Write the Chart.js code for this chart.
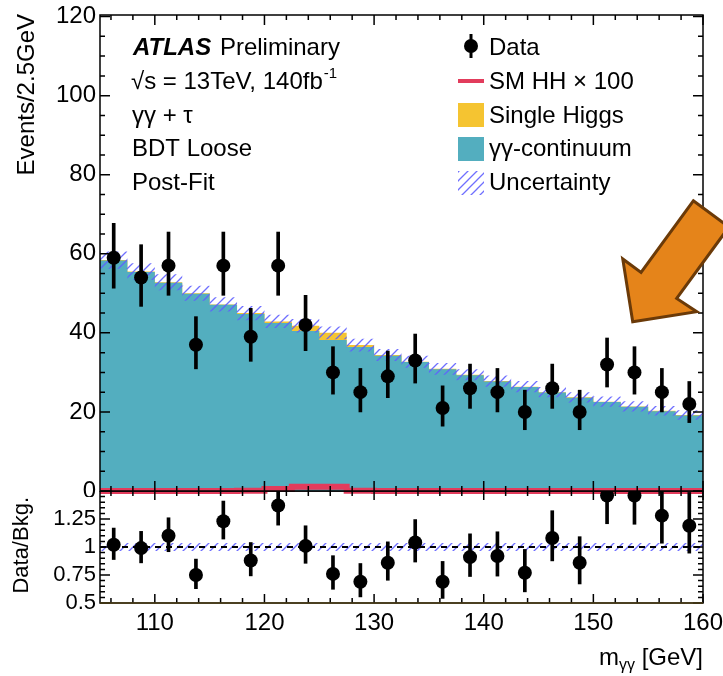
<!DOCTYPE html>
<html>
<head>
<meta charset="utf-8">
<script src="https://cdn.jsdelivr.net/npm/chart.js@4.4.1/dist/chart.umd.min.js"></script>
<style>
  html, body { margin: 0; padding: 0; background: #fff; }
  #wrap { position: relative; width: 723px; height: 676px; overflow: hidden; }
  #main  { position: absolute; left: 0; top: 0; }
  #ratio { position: absolute; left: 0; top: 491px; }
</style>
</head>
<body>
<div id="wrap">
  <canvas id="main" width="723" height="497"></canvas>
  <canvas id="ratio" width="723" height="185"></canvas>
</div>
<script>
// ---- data (2.5 GeV bins, 105-160) ----
const binEdges   = [105, 107.5, 110, 112.5, 115, 117.5, 120, 122.5, 125, 127.5, 130, 132.5,
                    135, 137.5, 140, 142.5, 145, 147.5, 150, 152.5, 155, 157.5, 160];
const binCenters = [106.25, 108.75, 111.25, 113.75, 116.25, 118.75, 121.25, 123.75, 126.25, 128.75, 131.25,
                    133.75, 136.25, 138.75, 141.25, 143.75, 146.25, 148.75, 151.25, 153.75, 156.25, 158.75];

const continuum   = [58.3, 55.4, 52.7, 49.9, 47.1, 44.8, 42.5, 40.5, 38.2, 36.4, 34.2,
                     32.6, 30.8, 29.3, 27.7, 26.3, 24.9, 23.6, 22.5, 21.3, 20.2, 19.1];
const singleHiggs = [0.1, 0.1, 0.1, 0.1, 0.1, 0.2, 0.4, 1.3, 1.8, 0.5, 0.2,
                     0.1, 0.1, 0.1, 0.1, 0.1, 0.1, 0.1, 0.1, 0.1, 0.1, 0.1];
const smHHx100    = [0.02, 0.02, 0.02, 0.02, 0.02, 0.05, 0.5, 1.1, 1.1, 0.05, 0.02,
                     0.02, 0.02, 0.02, 0.02, 0.02, 0.02, 0.02, 0.02, 0.02, 0.02, 0.02];
const bkgUnc      = [2.2, 2.1, 2.0, 1.9, 1.8, 1.8, 1.7, 1.7, 1.6, 1.6, 1.5,
                     1.5, 1.5, 1.4, 1.4, 1.4, 1.3, 1.3, 1.3, 1.3, 1.2, 1.2];

const dataCounts  = [59, 54, 57, 37, 57, 39, 57, 42, 30, 25, 29, 33, 21, 26, 25, 20, 26, 20, 32, 30, 25, 22];
const dataErrUp   = [8.7, 8.3, 8.5, 7.1, 8.5, 7.2, 8.5, 7.5, 6.5, 6.0, 6.4, 6.7, 5.6, 6.1, 6.0, 5.5, 6.1, 5.5, 6.7, 6.5, 6.0, 5.7];
const dataErrDown = [7.7, 7.3, 7.5, 6.1, 7.5, 6.2, 7.5, 6.5, 5.5, 5.0, 5.4, 5.7, 4.6, 5.1, 5.0, 4.5, 5.1, 4.5, 5.7, 5.5, 5.0, 4.7];

const ratioVals   = [1.02, 0.99, 1.10, 0.75, 1.23, 0.88, 1.37, 1.01, 0.76, 0.69, 0.86,
                     1.04, 0.69, 0.91, 0.92, 0.77, 1.08, 0.86, 1.46, 1.46, 1.28, 1.19];
const ratioUnc    = [0.035, 0.035, 0.035, 0.035, 0.035, 0.035, 0.035, 0.035, 0.035, 0.035, 0.035,
                     0.035, 0.035, 0.035, 0.035, 0.035, 0.035, 0.035, 0.035, 0.035, 0.035, 0.035];

const xTickLabels = [110, 120, 130, 140, 150, 160];
const yTicksMain  = [0, 20, 40, 60, 80, 100, 120];
const yTicksRatio = [0.5, 0.75, 1, 1.25];

const infoLines    = ['γγ + τ', 'BDT Loose', 'Post-Fit'];
const legendLabels = ['Data', 'SM HH × 100', 'Single Higgs', 'γγ-continuum', 'Uncertainty'];

// orange arrow outline, in (m_yy, events) units
const arrowX = [159.12, 162.37, 157.60, 159.43, 153.59, 152.68, 154.35];
const arrowY = [73.4, 66.8, 48.7, 45.35, 42.8, 58.7, 55.3];

// ---- helpers ----
const FONT = "'Liberation Sans', Arial, Helvetica, sans-serif";
const TEAL = '#53aebf', YELLOW = '#f5c431', RED = '#e23c5c', HATCH = 'rgba(95,95,255,0.9)';

const bkgTotal = continuum.map((v, i) => v + singleHiggs[i]);

// histogram -> points on bin edges for stepped line
const stepPoints = vals => binEdges.map((x, i) => ({ x, y: vals[Math.min(i, vals.length - 1)] }));

function makeHatch() {
  const c = document.createElement('canvas');
  c.width = 9; c.height = 9;
  const g = c.getContext('2d');
  g.strokeStyle = HATCH;
  g.lineWidth = 1.3;
  g.beginPath();
  g.moveTo(-1, 10); g.lineTo(10, -1);
  g.moveTo(-1, 1);  g.lineTo(1, -1);
  g.moveTo(8, 10);  g.lineTo(10, 8);
  g.stroke();
  return g.createPattern(c, 'repeat');
}
const hatch = makeHatch();

// no extra room for edge labels, the frame is placed by the layout padding
function noScalePad(s) {
  s.paddingTop = 0; s.paddingBottom = 0; s.paddingLeft = 0; s.paddingRight = 0;
}

// inward ATLAS-style ticks + frame
function frameTicks(chart, o) {
  const { ctx, chartArea: a } = chart;
  const x = chart.scales.x, y = chart.scales.y;
  const each = (min, max, step, major, fn) => {
    for (let n = Math.ceil(min / step - 1e-9); n * step <= max + 1e-9; n++) {
      const v = n * step;
      fn(v, Math.abs(v / major - Math.round(v / major)) < 1e-6);
    }
  };
  ctx.save();
  ctx.strokeStyle = '#000';
  ctx.lineWidth = 1.5;
  ctx.beginPath();
  each(x.min, x.max, o.xMinor, o.xMajor, (v, M) => {
    const p = x.getPixelForValue(v), L = M ? o.xMaj : o.xMin;
    ctx.moveTo(p, a.bottom); ctx.lineTo(p, a.bottom - L);
    ctx.moveTo(p, a.top);    ctx.lineTo(p, a.top + L);
  });
  each(y.min, y.max, o.yMinor, o.yMajor, (v, M) => {
    const p = y.getPixelForValue(v), L = M ? o.yMaj : o.yMin;
    ctx.moveTo(a.left, p);  ctx.lineTo(a.left + L, p);
    ctx.moveTo(a.right, p); ctx.lineTo(a.right - L, p);
  });
  ctx.stroke();
  ctx.strokeRect(a.left, a.top, a.right - a.left, a.bottom - a.top);
  if (o.bottomColor) {
    ctx.strokeStyle = o.bottomColor;
    ctx.beginPath(); ctx.moveTo(a.left, a.bottom); ctx.lineTo(a.right, a.bottom); ctx.stroke();
  }
  ctx.restore();
}

function mainDecor(chart) {
  const ctx = chart.ctx;
  const x = chart.scales.x, y = chart.scales.y;
  frameTicks(chart, { xMinor: 2, xMajor: 10, xMaj: 10, xMin: 5, yMinor: 5, yMajor: 20, yMaj: 10, yMin: 5 });

  ctx.save();
  ctx.fillStyle = '#000';
  ctx.textBaseline = 'alphabetic';

  // y title, aligned to the top end
  ctx.save();
  ctx.font = `24px ${FONT}`;
  ctx.translate(34, 14);
  ctx.rotate(-Math.PI / 2);
  ctx.textAlign = 'right';
  ctx.fillText('Events/2.5GeV', 0, 0);
  ctx.restore();

  // label block
  ctx.font = `italic bold 24px ${FONT}`;
  ctx.fillText('ATLAS', 133, 55);
  let w = ctx.measureText('ATLAS').width;
  ctx.font = `24px ${FONT}`;
  ctx.fillText(' Preliminary', 135 + w, 55);
  const s = '√s = 13TeV, 140fb';
  ctx.fillText(s, 131, 89);
  w = ctx.measureText(s).width;
  ctx.font = `15px ${FONT}`;
  ctx.fillText('-1', 132 + w, 78);
  ctx.font = `24px ${FONT}`;
  infoLines.forEach((t, i) => ctx.fillText(t, 132, 122.5 + 33.6 * i));

  // legend
  const lx = 458, lw = 26, tx = 489;
  const base = [55, 89, 122.5, 156, 190];
  legendLabels.forEach((t, i) => ctx.fillText(t, tx, base[i]));
  // data marker
  ctx.strokeStyle = '#000'; ctx.lineWidth = 3;
  ctx.beginPath(); ctx.moveTo(471, 34); ctx.lineTo(471, 58); ctx.stroke();
  ctx.beginPath(); ctx.arc(471, 46, 7, 0, Math.PI * 2); ctx.fill();
  // SM HH line
  ctx.strokeStyle = RED; ctx.lineWidth = 4;
  ctx.beginPath(); ctx.moveTo(lx, 81); ctx.lineTo(lx + lw, 81); ctx.stroke();
  // boxes
  ctx.fillStyle = YELLOW; ctx.fillRect(lx, 103, lw, 24);
  ctx.fillStyle = TEAL;   ctx.fillRect(lx, 137, lw, 24);
  ctx.fillStyle = hatch;  ctx.fillRect(lx, 171, lw, 24);

  // orange arrow
  ctx.beginPath();
  arrowX.forEach((v, i) => {
    const px = x.getPixelForValue(v), py = y.getPixelForValue(arrowY[i]);
    i ? ctx.lineTo(px, py) : ctx.moveTo(px, py);
  });
  ctx.closePath();
  ctx.fillStyle = '#e5841a';
  ctx.fill();
  ctx.strokeStyle = '#6b3a08';
  ctx.lineWidth = 3;
  ctx.lineJoin = 'miter';
  ctx.stroke();
  ctx.restore();
}

function ratioDecor(chart) {
  const ctx = chart.ctx;
  const a = chart.chartArea;
  // the shared border with the upper panel is drawn there, so skip it here
  frameTicks(chart, { xMinor: 2, xMajor: 10, xMaj: 9, xMin: 5, yMinor: 0.05, yMajor: 0.25, yMaj: 10, yMin: 5,
                      bottomColor: '#4f4017' });
  ctx.save();
  ctx.fillStyle = '#000';
  // y title
  ctx.save();
  ctx.font = `22px ${FONT}`;
  ctx.translate(28, 6);
  ctx.rotate(-Math.PI / 2);
  ctx.textAlign = 'right';
  ctx.fillText('Data/Bkg.', 0, 0);
  ctx.restore();
  // x title  m_yy [GeV], right aligned to the frame
  const big = `24px ${FONT}`, small = `16px ${FONT}`;
  ctx.font = big;  const w1 = ctx.measureText('m').width;
  ctx.font = small; const w2 = ctx.measureText('γγ').width;
  ctx.font = big;  const w3 = ctx.measureText(' [GeV]').width;
  const x0 = a.right - (w1 + w2 + w3);
  ctx.font = big;   ctx.fillText('m', x0, 174);
  ctx.font = small; ctx.fillText('γγ', x0 + w1, 179);
  ctx.font = big;   ctx.fillText(' [GeV]', x0 + w1 + w2, 174);
  ctx.restore();
}

const commonY = (ticks, font) => ({
  type: 'linear',
  afterFit(s) { s.width = 100; noScalePad(s); },
  afterBuildTicks(s) { s.ticks = ticks.map(v => ({ value: v })); },
  ticks: { font: { family: FONT, size: font }, color: '#000', padding: 4, autoSkip: false, callback: v => String(v) },
  grid: { display: false, drawTicks: false },
  border: { display: false }
});

// ---- main panel ----
new Chart(document.getElementById('main'), {
  type: 'line',
  data: {
    datasets: [
      { label: 'Data', data: binCenters.map((x, i) => ({ x, y: dataCounts[i] })),
        showLine: false, pointRadius: 7, pointBackgroundColor: '#000', pointBorderWidth: 0, borderColor: '#000' },
      { type: 'bar', label: 'Data err', grouped: false, barThickness: 3, backgroundColor: '#000', borderWidth: 0,
        data: binCenters.map((x, i) => ({ x, y: [dataCounts[i] - dataErrDown[i], dataCounts[i] + dataErrUp[i]] })) },
      { label: 'Uncertainty', data: stepPoints(bkgTotal.map((v, i) => v + bkgUnc[i])), stepped: 'before',
        pointRadius: 0, borderWidth: 0, borderColor: 'transparent', fill: '+1', backgroundColor: hatch },
      { label: 'unc lo', data: stepPoints(bkgTotal.map((v, i) => v - bkgUnc[i])), stepped: 'before',
        pointRadius: 0, borderWidth: 0, borderColor: 'transparent', fill: false },
      { label: 'SM HH x 100', data: stepPoints(smHHx100), stepped: 'before', pointRadius: 0,
        borderWidth: 6, borderColor: RED, fill: false, clip: 8 },
      { label: 'γγ-continuum', data: stepPoints(continuum), stepped: 'before', pointRadius: 0,
        borderWidth: 0, borderColor: 'transparent', fill: 'origin', backgroundColor: TEAL },
      { label: 'Single Higgs', data: stepPoints(bkgTotal), stepped: 'before', pointRadius: 0,
        borderWidth: 0, borderColor: 'transparent', fill: 'origin', backgroundColor: YELLOW }
    ]
  },
  options: {
    responsive: false,
    animation: false,
    events: [],
    layout: { autoPadding: false, padding: { top: 15, right: 20, bottom: 6, left: 0 } },
    plugins: { legend: { display: false }, tooltip: { enabled: false } },
    scales: {
      x: { type: 'linear', min: 105, max: 160, display: false, offset: false },
      y: Object.assign(commonY(yTicksMain, 24), { min: 0, max: 120.4 })
    }
  },
  plugins: [{ id: 'mainDecor', afterDraw: mainDecor }]
});

// ---- ratio panel ----
new Chart(document.getElementById('ratio'), {
  type: 'line',
  data: {
    datasets: [
      { label: 'ratio', data: binCenters.map((x, i) => ({ x, y: ratioVals[i] })), clip: 0,
        showLine: false, pointRadius: 7, pointBackgroundColor: '#000', pointBorderWidth: 0, borderColor: '#000' },
      { type: 'bar', label: 'ratio err', grouped: false, barThickness: 3, backgroundColor: '#000', borderWidth: 0, clip: 0,
        data: binCenters.map((x, i) => ({ x, y: [ratioVals[i] - dataErrDown[i] / bkgTotal[i],
                                                 ratioVals[i] + dataErrUp[i] / bkgTotal[i]] })) },
      { label: 'one', data: [{ x: 105, y: 1 }, { x: 160, y: 1 }], pointRadius: 0,
        borderColor: '#000', borderWidth: 2, borderDash: [6, 5], fill: false },
      { label: 'unc hi', data: stepPoints(ratioUnc.map(u => 1 + u)), stepped: 'before', pointRadius: 0,
        borderWidth: 0, borderColor: 'transparent', fill: '+1', backgroundColor: hatch },
      { label: 'unc lo', data: stepPoints(ratioUnc.map(u => 1 - u)), stepped: 'before', pointRadius: 0,
        borderWidth: 0, borderColor: 'transparent', fill: false }
    ]
  },
  options: {
    responsive: false,
    animation: false,
    events: [],
    layout: { autoPadding: false, padding: { top: 0, right: 20, bottom: 0, left: 0 } },
    plugins: { legend: { display: false }, tooltip: { enabled: false } },
    scales: {
      x: {
        type: 'linear', min: 105, max: 160, offset: false,
        afterFit(s) { s.height = 73; noScalePad(s); },
        afterBuildTicks(s) { s.ticks = xTickLabels.map(v => ({ value: v })); },
        ticks: { font: { family: FONT, size: 24 }, color: '#000', padding: 6, autoSkip: false, maxRotation: 0,
                 callback: v => String(v) },
        grid: { display: false, drawTicks: false },
        border: { display: false }
      },
      y: Object.assign(commonY(yTicksRatio, 22), { min: 0.5, max: 1.5 })
    }
  },
  plugins: [{ id: 'ratioDecor', afterDraw: ratioDecor }]
});
</script>
</body>
</html>
